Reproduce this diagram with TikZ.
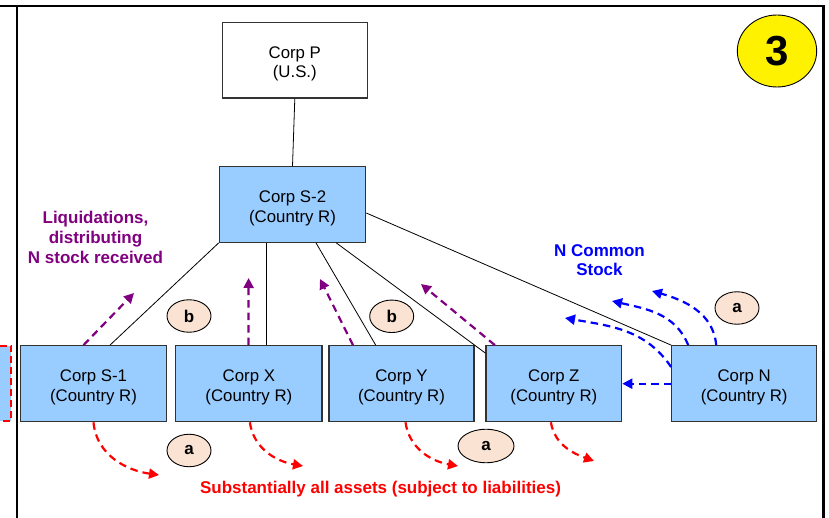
\documentclass[tikz,border=0pt]{standalone}
\usepackage{fontspec}
\setmainfont{Liberation Sans}
\usetikzlibrary{arrows.meta,calc,shapes.geometric}
\definecolor{boxblue}{HTML}{99CCFF}
\definecolor{peach}{HTML}{FBE3D3}
\definecolor{dpurple}{HTML}{800080}
\definecolor{boxline}{HTML}{333333}
\newcommand\cstrut{\rule{0pt}{19pt}}
\begin{document}
\begin{tikzpicture}[x=1pt,y=1pt,
  corp/.style={draw=boxline,line width=1.2pt,fill=boxblue,minimum width=146pt,minimum height=76pt,inner sep=0pt,align=center,font=\fontsize{16.8}{19.5}\selectfont},
  tag/.style={ellipse,draw=black,line width=0.9pt,fill=peach,minimum width=44pt,minimum height=32.5pt,inner sep=0pt,font=\fontsize{17}{17}\selectfont\bfseries},
  dasharrow/.style={line width=2.2pt,dash pattern=on 7.5pt off 5pt,-{Triangle[length=10pt,width=10pt]}},
  link/.style={draw=black,line width=0.8pt},
  frameline/.style={line width=2.2pt,line cap=rect},
  lbl/.style={align=center,inner sep=0pt,font=\fontsize{17}{19.7}\selectfont\bfseries}]
\useasboundingbox (0,0) rectangle (829,-518);

% frame
\draw[frameline] (0,-6) -- (823.5,-6);
\draw[frameline] (17,-6) -- (17,-520);
\draw[frameline] (823.5,-6) -- (823.5,-520);

% partial box at left edge
\node[draw=red,dash pattern=on 7pt off 4pt,line width=2pt,fill=boxblue,minimum width=30pt,minimum height=75.6pt,inner sep=0pt] (L) at (-4,-383.5) {};

% corporations
\node[corp,fill=white,minimum width=145pt,minimum height=75.3pt] (P) at (294.8,-60.4) {\cstrut Corp P\\(U.S.)};
\node[corp,minimum width=146.4pt,minimum height=75.6pt] (S2) at (292.5,-204.5) {\cstrut Corp S-2\\(Country R)};
\node[corp,minimum width=145.6pt] (S1) at (93.5,-383.7) {\cstrut Corp S-1\\(Country R)};
\node[corp,minimum width=146.3pt] (X) at (248.85,-383.7) {\cstrut Corp X\\(Country R)};
\node[corp,minimum width=145pt] (Y) at (401.5,-383.7) {\cstrut Corp Y\\(Country R)};
\node[corp,minimum width=135.7pt] (Z) at (553.85,-383.7) {\cstrut Corp Z\\(Country R)};
\node[corp,minimum width=145pt] (N) at (744.2,-383.7) {\cstrut Corp N\\(Country R)};

% ownership links
\draw[link] (P.south) -- (S2.north);
\draw[link] (S2.south west) -- ([xshift=16.5pt]S1.north);
\draw[link] ([xshift=18pt]X.north |- S2.south) -- ([xshift=18pt]X.north);
\draw[link] ([xshift=23.5pt]S2.south) -- ([xshift=-25.8pt]Y.north);
\draw[link] ([xshift=43.8pt]S2.south) -- ([yshift=-8pt]Z.north west);
\draw[link] ([yshift=-8.5pt]S2.east) -- (N.north west);

% purple liquidation arrows
\coordinate (p1) at (134,-293);
\coordinate (p2) at (248.6,-278);
\coordinate (p3) at (320,-279);
\coordinate (p4) at (421,-284);
\draw[dasharrow,dpurple] ([xshift=-10pt]S1.north) -- (p1);
\draw[dasharrow,dpurple] ([xshift=-0.3pt]X.north) -- (p2);
\draw[dasharrow,dpurple] ([xshift=-48.5pt]Y.north) -- (p3);
\draw[dasharrow,dpurple] ([xshift=-59pt]Z.north) -- (p4);

% blue N stock arrows
\coordinate (b1) at (652,-291);
\coordinate (b2) at (612,-301);
\coordinate (b3) at (565,-318);
\draw[dasharrow,blue] (N.west) -- (Z.east);
\draw[dasharrow,blue] ([xshift=-28pt]N.north) to[out=95,in=-16] (b1);
\draw[dasharrow,blue] ([xshift=-56pt]N.north) to[out=112,in=-13] (b2);
\draw[dasharrow,blue] ([yshift=16.7pt]N.west) to[out=124,in=-10] (b3);

% red asset arrows
\coordinate (r1) at (159,-475);
\coordinate (r2) at (303,-466);
\coordinate (r3) at (458,-466);
\coordinate (r4) at (594,-461);
\draw[dasharrow,red] (S1.south) to[out=-85,in=172] (r1);
\draw[dasharrow,red] ([xshift=1pt]X.south) to[out=-82,in=170] (r2);
\draw[dasharrow,red] ([xshift=4pt]Y.south) to[out=-82,in=170] (r3);
\draw[dasharrow,red] ([xshift=-3pt]Z.south) to[out=-80,in=160] (r4);

% step tags
\node[tag] (tb1) at (189,-316) {b};
\node[tag] (tb2) at (391.7,-316.3) {b};
\node[tag] (ta1) at (189,-450.5) {a};
\node[tag,minimum width=56pt,minimum height=33.5pt] (ta2) at (486,-446) {a};
\node[tag] (ta3) at (737,-308) {a};

% step number
\node[ellipse,draw=black,line width=0.9pt,fill=yellow,minimum width=79.4pt,minimum height=72pt,inner sep=0pt,font=\fontsize{42}{42}\selectfont\bfseries] (three) at (777,-51) {3};

% labels
\node[lbl,text=dpurple] (liq) at (95.5,-237.5) {Liquidations,\\distributing\\N stock received};
\node[lbl,text=blue] (ncs) at (599.5,-260) {N Common\\Stock};
\node[lbl,text=red] (sub) at (380.5,-489) {Substantially all assets (subject to liabilities)};
\end{tikzpicture}
\end{document}
